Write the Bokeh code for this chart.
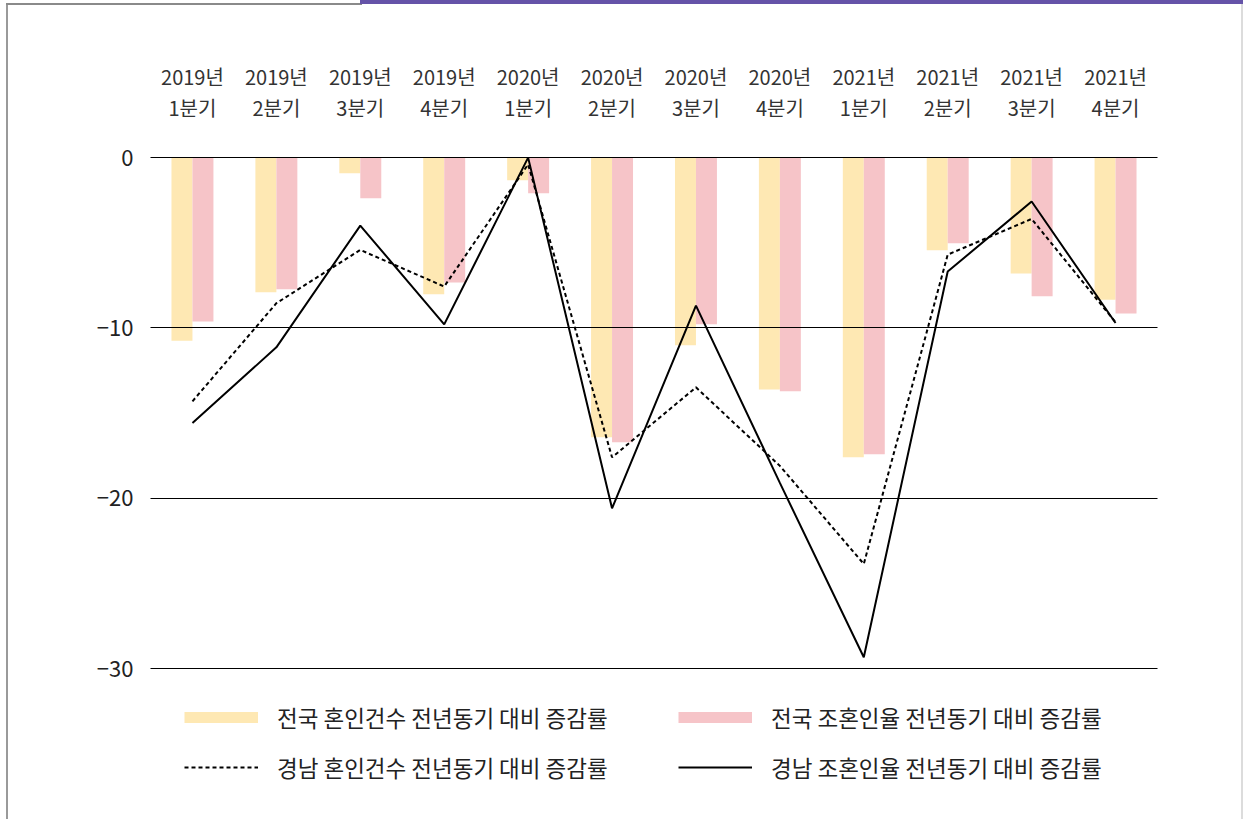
import numpy as np
from bokeh.plotting import figure
from bokeh.models import (Range1d, FixedTicker, LinearAxis, Legend, LegendItem,
                          ColumnDataSource, Grid)
from bokeh.transform import dodge
from bokeh.embed import file_html
from bokeh.resources import INLINE

# ---------------- data ----------------
years = ["2019년", "2019년", "2019년", "2019년",
         "2020년", "2020년", "2020년", "2020년",
         "2021년", "2021년", "2021년", "2021년"]
quarters = ["1분기", "2분기", "3분기", "4분기"] * 3
national_count = [-10.75, -7.91, -0.92, -8.03, -1.33, -16.42, -11.02, -13.62, -17.60, -5.44, -6.81, -8.34]
national_rate = [-9.63, -7.73, -2.39, -7.34, -2.10, -16.72, -9.79, -13.72, -17.42, -5.03, -8.14, -9.16]
gn_count = [-14.31, -8.55, -5.42, -7.57, -0.40, -17.60, -13.49, -18.10, -23.86, -5.70, -3.60, -9.67]
gn_rate = [-15.58, -11.14, -3.99, -9.79, 0.0, -20.59, -8.69, -19.10, -29.34, -6.69, -2.58, -9.71]
y_ticks = [0, -10, -20, -30]
y_tick_labels = ["0", "−10", "−20", "−30"]
legend_labels = ["전국 혼인건수 전년동기 대비 증감률",
                 "전국 조혼인율 전년동기 대비 증감률",
                 "경남 혼인건수 전년동기 대비 증감률",
                 "경남 조혼인율 전년동기 대비 증감률"]

YELLOW = "#FEE8B3"
PINK = "#F6C4C8"
PURPLE = "#6553A8"
FONT = "Noto Sans CJK KR"

xc = [i + 0.5 for i in range(len(years))]
src = ColumnDataSource(dict(x=xc, nc=national_count, nr=national_rate,
                            gc=gn_count, gr=gn_rate))

frame_css = (
    "linear-gradient(#6553A8,#6553A8) 360px 0px / 883px 4px no-repeat, "
    "linear-gradient(#8a8a8a,#8a8a8a) 6px 3px / 356px 2px no-repeat, "
    "linear-gradient(#9a9a9a,#9a9a9a) 6px 3px / 2px 816px no-repeat, "
    "linear-gradient(#dcdcdc,#dcdcdc) 1241px 4px / 2px 815px no-repeat, "
    "white"
)

p = figure(width=1245, height=819, output_backend="svg", toolbar_location=None,
           x_range=Range1d(0, len(years)), y_range=Range1d(-37.75, 0.3),
           x_axis_type=None, y_axis_type=None,
           min_border_left=150, min_border_right=88,
           min_border_top=152, min_border_bottom=19,
           outline_line_color=None, background_fill_color="white",
           border_fill_color=None, styles={"background": frame_css})

# bars
p.vbar(x=dodge("x", -0.125, range=p.x_range), top="nc", bottom=0, width=0.25,
       source=src, fill_color=YELLOW, line_color=None)
p.vbar(x=dodge("x", 0.125, range=p.x_range), top="nr", bottom=0, width=0.25,
       source=src, fill_color=PINK, line_color=None)

# grid lines (drawn over the bars)
p.add_layout(Grid(dimension=1, ticker=FixedTicker(ticks=y_ticks),
                  grid_line_color="black", grid_line_width=1, level="guide"))

# lines
r_dash = p.line("x", "gc", source=src, line_color="black", line_width=2,
                line_dash="4 3")
r_solid = p.line("x", "gr", source=src, line_color="black", line_width=2)

# legend swatches for bars (thick strokes like the reference), not drawn in plot
sw_y = p.line(x=[xc[0]], y=[np.nan], line_color=YELLOW, line_width=11)
sw_p = p.line(x=[xc[0]], y=[np.nan], line_color=PINK, line_width=11)

# axes
yax = LinearAxis(ticker=FixedTicker(ticks=y_ticks),
                 major_label_overrides={t: l for t, l in zip(y_ticks, y_tick_labels)},
                 axis_line_color=None, major_tick_line_color=None,
                 minor_tick_line_color=None, major_tick_out=0,
                 major_label_standoff=17,
                 major_label_text_font=FONT, major_label_text_font_size="22px",
                 major_label_text_color="#222")
p.add_layout(yax, "left")

def top_axis(labels, standoff):
    return LinearAxis(ticker=FixedTicker(ticks=xc),
                      major_label_overrides={float(x): l for x, l in zip(xc, labels)},
                      axis_line_color=None, major_tick_line_color=None,
                      minor_tick_line_color=None, major_tick_out=0,
                      major_label_standoff=standoff,
                      major_label_text_font=FONT, major_label_text_font_size="20px",
                      major_label_text_color="#333")

p.add_layout(top_axis(quarters, 31), "above")
p.add_layout(top_axis(years, -1), "above")

# legends
common = dict(glyph_width=74, glyph_height=20, label_standoff=19, spacing=18,
              padding=0, margin=0, border_line_color=None,
              background_fill_alpha=0, label_text_font=FONT,
              label_text_font_size="22.5px", label_text_color="#222",
              label_height=20)
leg1 = Legend(items=[LegendItem(label=legend_labels[0], renderers=[sw_y]),
                     LegendItem(label=legend_labels[2], renderers=[r_dash])],
              location=(34, 17), **common)
leg2 = Legend(items=[LegendItem(label=legend_labels[1], renderers=[sw_p]),
                     LegendItem(label=legend_labels[3], renderers=[r_solid])],
              location=(528, 17), **common)
p.add_layout(leg1, "center")
p.add_layout(leg2, "center")

open("out.html", "w").write(file_html(p, INLINE))
